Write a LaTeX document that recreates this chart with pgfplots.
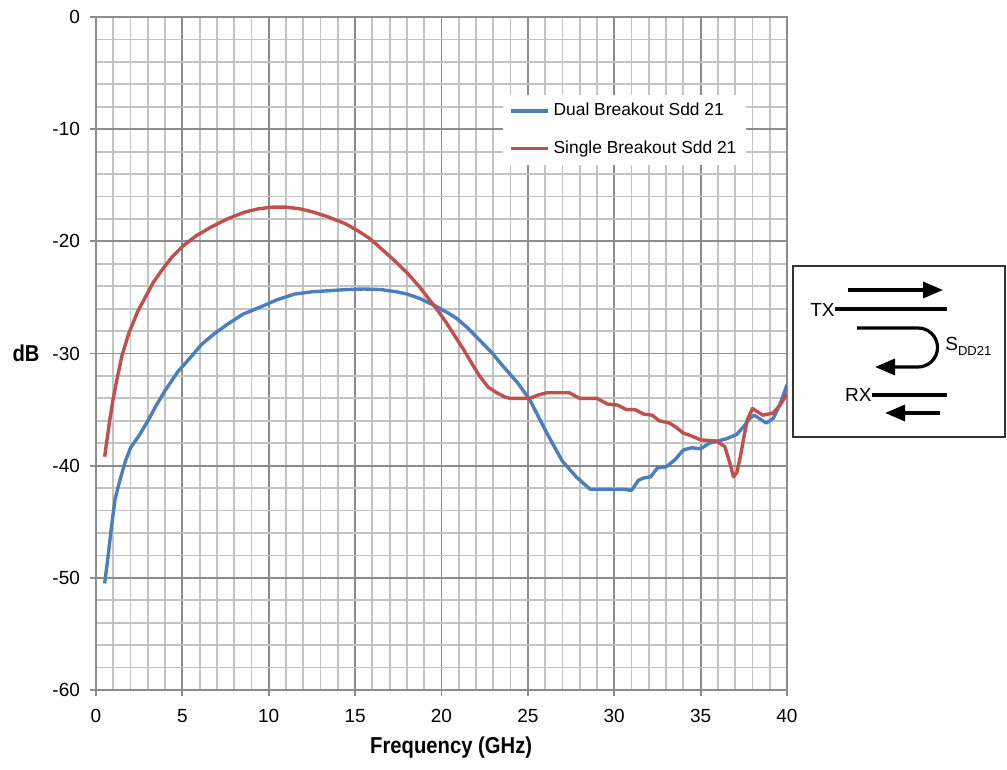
\documentclass[border=0pt]{standalone}
\usepackage{fontspec}
\setmainfont{Liberation Sans}
\newfontfamily\condbold[FakeStretch=0.88]{Liberation Sans}
\usepackage{pgfplots}
\pgfplotsset{compat=1.18}
\usetikzlibrary{arrows.meta}
\definecolor{dualblue}{RGB}{74,126,189}
\definecolor{singlered}{RGB}{192,80,77}
\definecolor{majgrid}{RGB}{140,140,140}
\definecolor{mingrid}{RGB}{195,195,195}
\begin{document}
\begin{tikzpicture}
\begin{axis}[
  at={(48pt,-345pt)}, anchor=south west,
  scale only axis, width=345.5pt, height=336.5pt,
  xmin=0, xmax=40, ymin=-60, ymax=0,
  xtick={0,5,...,40}, ytick={-60,-50,...,0},
  minor xtick={0,1,...,40}, minor ytick={-60,-58,...,0},
  grid=both,
  major grid style={majgrid, line width=0.9pt},
  minor grid style={mingrid, line width=0.9pt},
  axis line style={majgrid, line width=0.9pt},
  tick style={majgrid, line width=0.9pt},
  major tick length=3pt, minor tick length=0pt,
  tick align=outside, xtick pos=left, ytick pos=left,
  tick label style={font=\fontsize{9.5}{11}\selectfont},
  xticklabel style={yshift=-3pt},
  yticklabel style={xshift=-1.5pt},
  /pgf/number format/assume math mode=true,
  xlabel={\condbold\bfseries Frequency (GHz)},
  every axis x label/.style={at={(rel axis cs:0.514,0)}, anchor=center, yshift=-29pt, font=\fontsize{11.5}{13}\selectfont},
  ylabel={\condbold\bfseries dB},
  every axis y label/.style={at={(rel axis cs:0,0.5)}, anchor=center, xshift=-35pt, font=\fontsize{11.5}{13}\selectfont},
  legend style={at={(axis cs:23.55,-6.95)}, anchor=north west, draw=none, fill=white,
    font=\fontsize{8.7}{11}\selectfont, row sep=7pt},
  legend cell align=left,
  legend image code/.code={\draw[#1] (0pt,0pt) -- (18.5pt,0pt);},
]
\addplot[dualblue, line width=1.7pt, line join=round] coordinates {
(0.5,-50.5) (0.7,-48.1) (0.9,-45.4) (1.1,-43.0) (1.4,-41.2) (1.7,-39.6) (2.0,-38.4)
(2.5,-37.3) (3.0,-36.0) (3.5,-34.6) (4.0,-33.3) (4.75,-31.6) (5.5,-30.3) (6.1,-29.2)
(6.8,-28.3) (7.6,-27.4) (8.5,-26.5) (9.6,-25.8) (10.5,-25.2) (11.5,-24.7) (12.5,-24.5)
(13.5,-24.4) (14.5,-24.3) (15.5,-24.25) (16.5,-24.3) (17.4,-24.5) (18.0,-24.7)
(18.75,-25.1) (19.7,-25.8) (20.4,-26.4) (20.9,-26.9) (21.5,-27.7) (22.2,-28.8)
(22.9,-29.9) (23.6,-31.2) (24.4,-32.6) (25.1,-34.1) (25.6,-35.6) (26.1,-37.1)
(26.6,-38.5) (27.0,-39.6) (27.8,-41.0) (28.6,-42.1) (29.5,-42.1) (30.5,-42.1)
(31.0,-42.2) (31.4,-41.3) (31.7,-41.1) (32.1,-41.0) (32.5,-40.2) (33.0,-40.1)
(33.5,-39.5) (34.0,-38.6) (34.5,-38.4) (35.0,-38.5) (35.5,-38.0) (36.0,-37.8)
(36.5,-37.6) (37.1,-37.2) (37.5,-36.5) (37.9,-35.7) (38.1,-35.5) (38.5,-35.9)
(38.8,-36.2) (39.2,-35.8) (39.6,-34.5) (40.0,-32.8)
};
\addlegendentry{Dual Breakout Sdd 21}
\addplot[singlered, line width=1.7pt, line join=round] coordinates {
(0.5,-39.2) (0.8,-35.9) (1.0,-34.0) (1.2,-32.4) (1.5,-30.2) (1.9,-28.2) (2.4,-26.3)
(2.85,-25.0) (3.3,-23.7) (3.8,-22.6) (4.4,-21.4) (5.05,-20.4) (5.8,-19.5) (6.7,-18.7)
(7.6,-18.0) (8.6,-17.4) (9.4,-17.1) (10.2,-16.95) (11.0,-16.95) (11.8,-17.1)
(12.6,-17.4) (13.4,-17.8) (14.4,-18.4) (15.1,-19.0) (15.8,-19.7) (16.4,-20.5)
(17.2,-21.6) (18.0,-22.8) (18.7,-24.0) (19.3,-25.2) (19.8,-26.2) (20.3,-27.3)
(20.8,-28.5) (21.3,-29.7) (21.8,-31.0) (22.2,-32.0) (22.7,-33.0) (23.2,-33.5)
(23.7,-33.9) (24.0,-34.0) (25.1,-34.0) (25.6,-33.7) (26.1,-33.5) (27.4,-33.5)
(28.0,-34.0) (29.0,-34.0) (29.6,-34.5) (30.2,-34.6) (30.7,-35.0) (31.2,-35.0)
(31.7,-35.4) (32.2,-35.5) (32.6,-36.0) (33.2,-36.2) (33.6,-36.6) (34.0,-37.1)
(34.4,-37.3) (35.0,-37.7) (35.9,-37.8) (36.4,-38.3) (36.7,-39.8) (36.9,-41.0)
(37.1,-40.6) (37.3,-39.2) (37.5,-37.5) (37.7,-35.9) (38.0,-34.9) (38.3,-35.2)
(38.6,-35.5) (39.2,-35.3) (39.6,-34.6) (40.0,-33.6)
};
\addlegendentry{Single Breakout Sdd 21}
\end{axis}
\begin{scope}[x=0.5pt,y=-0.5pt]
\path (0,0) rectangle (1007,770);
\draw[black!80, line width=0.7pt] (793,266) rectangle (1005,437);
\draw[line width=1.6pt, -{Triangle[length=10pt,width=8pt]}] (848,290) -- (943,290);
\draw[line width=1.6pt] (835,309) -- (947,309);
\node[anchor=east, font=\fontsize{9.5}{10}\selectfont, inner sep=0pt] at (835,310) {TX};
\draw[line width=1.6pt, -{Triangle[length=10pt,width=8pt]}] (857,328) -- (918,328) arc[start angle=90, end angle=-90, radius=9.75pt] -- (875,367);
\node[anchor=west, font=\fontsize{9.5}{10}\selectfont, inner sep=0pt] at (945,346) {S\raisebox{-0.5ex}{\fontsize{6.5}{7}\selectfont DD21}};
\node[anchor=east, font=\fontsize{9.5}{10}\selectfont, inner sep=0pt] at (872,395) {RX};
\draw[line width=1.6pt] (872,395) -- (947,395);
\draw[line width=1.6pt, -{Triangle[length=10pt,width=8pt]}] (940,413) -- (885,413);
\end{scope}
\end{tikzpicture}
\end{document}
